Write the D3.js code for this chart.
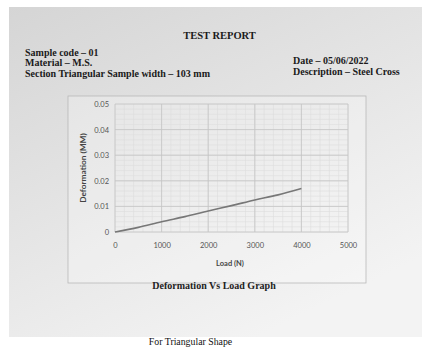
<!DOCTYPE html>
<html><head><meta charset="utf-8">
<script src="https://cdn.jsdelivr.net/npm/d3@7"></script>
<style>body{margin:0;background:#fff}svg{display:block}</style>
</head><body>
<svg id="c" width="438" height="363"></svg>
<script>
const loads = [0, 500, 1000, 1500, 2000, 2500, 3000, 3500, 4000];
const deformation = [0, 0.0018, 0.004, 0.006, 0.0082, 0.0103, 0.0125, 0.0145, 0.017];
const xTicks = [0, 1000, 2000, 3000, 4000, 5000];
const yTicks = [0, 0.01, 0.02, 0.03, 0.04, 0.05];
const headerLeft = ["Sample code – 01", "Material – M.S.", "Section Triangular Sample width – 103 mm"];
const headerRight = ["Date – 05/06/2022", "Description – Steel Cross"];

const svg = d3.select("#c");
const defs = svg.append("defs");
const g1 = defs.append("linearGradient").attr("id","paper").attr("x1","0").attr("y1","0").attr("x2","0.6").attr("y2","1");
g1.append("stop").attr("offset","0").attr("stop-color","#d5d5d5");
g1.append("stop").attr("offset","0.5").attr("stop-color","#e4e4e4");
g1.append("stop").attr("offset","1").attr("stop-color","#f3f3f3");

svg.append("rect").attr("x",9).attr("y",7).attr("width",413).attr("height",330).attr("fill","url(#paper)");

const serif = "'Liberation Serif','Times New Roman',serif";
svg.append("text").attr("x",219.5).attr("y",39).attr("text-anchor","middle")
  .attr("font-family",serif).attr("font-weight","bold").attr("font-size",10.5).attr("fill","#1a1a1a").text("TEST REPORT");
svg.selectAll("text.hl").data(headerLeft).join("text").attr("class","hl")
  .attr("x",25).attr("y",(d,i)=>[56,66,77][i])
  .attr("font-family",serif).attr("font-weight","bold").attr("font-size",10).attr("fill","#1a1a1a").text(d=>d);
svg.selectAll("text.hr").data(headerRight).join("text").attr("class","hr")
  .attr("x",293).attr("y",(d,i)=>[64,74.5][i])
  .attr("font-family",serif).attr("font-weight","bold").attr("font-size",10).attr("fill","#1a1a1a").text(d=>d);

// chart box
svg.append("rect").attr("x",68).attr("y",96).attr("width",298).attr("height",187)
  .attr("fill","#ffffff").attr("fill-opacity",0.25).attr("stroke","#b8b8b8").attr("stroke-width",0.8);

const x = d3.scaleLinear().domain([0,5000]).range([115,348]);
const y = d3.scaleLinear().domain([0,0.05]).range([232,104]);

const gridG = svg.append("g");
const minorX = d3.range(0,5001,200), minorY = d3.range(0,0.05001,0.002);
gridG.selectAll("line.mx").data(minorX).join("line").attr("x1",d=>x(d)).attr("x2",d=>x(d)).attr("y1",y(0)).attr("y2",y(0.05))
  .attr("stroke","#dedede").attr("stroke-width",0.6);
gridG.selectAll("line.my").data(minorY).join("line").attr("y1",d=>y(d)).attr("y2",d=>y(d)).attr("x1",x(0)).attr("x2",x(5000))
  .attr("stroke","#dedede").attr("stroke-width",0.6);
gridG.selectAll("line.Mx").data(xTicks).join("line").attr("x1",d=>x(d)).attr("x2",d=>x(d)).attr("y1",y(0)).attr("y2",y(0.05))
  .attr("stroke","#c4c4c4").attr("stroke-width",0.8);
gridG.selectAll("line.My").data(yTicks).join("line").attr("y1",d=>y(d)).attr("y2",d=>y(d)).attr("x1",x(0)).attr("x2",x(5000))
  .attr("stroke","#c4c4c4").attr("stroke-width",0.8);

const sans = "Lato,'Open Sans',sans-serif";
const xa = svg.append("g").attr("transform",`translate(0,${y(0)})`)
  .call(d3.axisBottom(x).tickValues(xTicks).tickSize(0).tickPadding(11).tickFormat(d3.format("d")));
const ya = svg.append("g").attr("transform",`translate(${x(0)},0)`)
  .call(d3.axisLeft(y).tickValues(yTicks).tickSize(0).tickPadding(6).tickFormat(d=>d===0?"0":d3.format(".2f")(d)));
[xa,ya].forEach(a=>{a.select(".domain").remove();a.selectAll("text").attr("font-family",sans).attr("font-size",7.5).attr("fill","#555");});

svg.append("text").attr("x",230).attr("y",266).attr("text-anchor","middle").attr("font-family",sans)
  .attr("font-weight","bold").attr("font-size",7.5).attr("fill","#444").text("Load (N)");
svg.append("text").attr("transform","translate(86,168) rotate(-90)").attr("text-anchor","middle").attr("font-family",sans)
  .attr("font-weight","bold").attr("font-size",8.3).attr("fill","#444").text("Deformation (MM)");

const line = d3.line().x((d,i)=>x(loads[i])).y(d=>y(d)).curve(d3.curveMonotoneX);
svg.append("path").datum(deformation).attr("d",line).attr("fill","none").attr("stroke","#777").attr("stroke-width",1.6);

svg.append("text").attr("x",214).attr("y",289).attr("text-anchor","middle").attr("font-family",serif)
  .attr("font-weight","bold").attr("font-size",10).attr("fill","#222").text("Deformation Vs Load Graph");
svg.append("text").attr("x",190.5).attr("y",345).attr("text-anchor","middle").attr("font-family",serif)
  .attr("font-size",9.8).attr("fill","#111").text("For Triangular Shape");
</script>
</body></html>
